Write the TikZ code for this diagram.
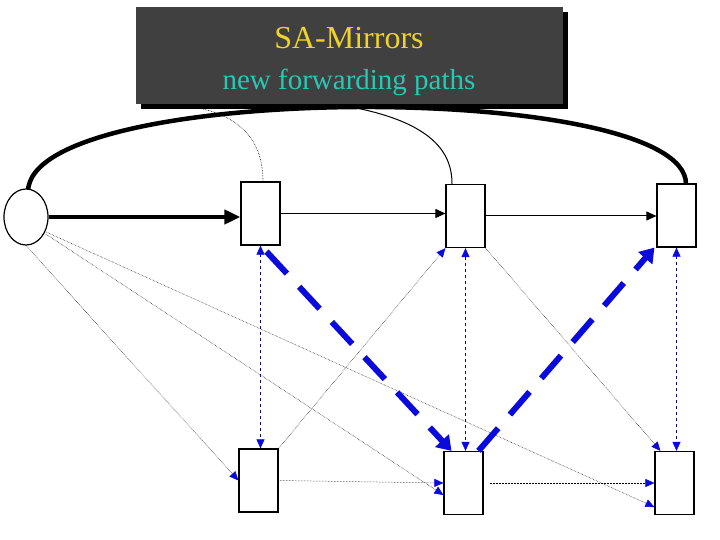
\documentclass[tikz,border=0pt]{standalone}
\usepackage{fontspec}
\setmainfont{Liberation Serif}
\usetikzlibrary{shapes.geometric,arrows.meta}
\definecolor{boxgray}{RGB}{64,64,64}
\definecolor{titlegold}{RGB}{240,210,40}
\definecolor{titleteal}{RGB}{40,200,180}
\definecolor{arrblue}{RGB}{10,10,220}
\begin{document}
\begin{tikzpicture}[x=1pt,y=-1pt,
  rbox/.style={draw,line width=1.2pt,fill=white,minimum width=39pt,minimum height=63pt,inner sep=0pt},
  dotl/.style={densely dotted,line width=0.5pt,-{Triangle[length=9pt,width=8pt,color=arrblue]}},
  vdash/.style={dashed,draw=arrblue!60!black,line width=0.6pt,{Triangle[length=9pt,width=8pt,color=arrblue]}-{Triangle[length=9pt,width=8pt,color=arrblue]}},
  bigdash/.style={draw=arrblue,line width=6pt,dash pattern=on 30pt off 18pt,-{Triangle[length=14pt,width=18pt]}},
  blk/.style={-{Triangle[length=10pt,width=9pt]}}]
\useasboundingbox (0,0) rectangle (720,540);
% arcs behind title
\draw[line width=4.5pt] (28,192) .. controls (28,80) and (686,80) .. (686,184);
\draw[line width=1pt] (300,100) .. controls (430,112) and (452,150) .. (452,184);
\draw[densely dotted,line width=0.6pt] (175,105) .. controls (250,110) and (263,150) .. (263,182);
% title
\fill[black] (141,12) rectangle (568,109);
\node[fill=boxgray,minimum width=427pt,minimum height=97pt,inner sep=0pt] (title) at (349.5,55.5) {};
\node[text=titlegold,font=\fontsize{32}{32}\selectfont] (t1) at (349,38) {SA-Mirrors};
\node[text=titleteal,font=\fontsize{29}{29}\selectfont] (t2) at (349,82) {new forwarding paths};
% nodes
\node[ellipse,draw,line width=1.2pt,fill=white,minimum width=44pt,minimum height=56pt,inner sep=0pt] (O) at (26,217) {};
\node[rbox] (A1) at (260.5,213.5) {};
\node[rbox] (A2) at (465.5,216) {};
\node[rbox] (A3) at (676.5,215.5) {};
\node[rbox] (B1) at (258.5,480.5) {};
\node[rbox] (B2) at (463.5,483) {};
\node[rbox] (B3) at (674.5,483) {};
% horizontal forward
\draw[line width=4pt,-{Triangle[length=16pt,width=14pt]}] (O.east) -- (A1.west |- O.east);
\draw[line width=1pt,blk] (A1.east) -- (A2.west |- A1.east);
\draw[line width=1pt,blk] (A2.east) -- (A3.west |- A2.east);
% dotted from O
\draw[dotl] (O.south) -- (B1.west);
\draw[dotl] ([shift={(4,-3)}]O.south east) -- ([yshift=-12]B2.west);
\draw[dotl] ([shift={(-2,-5)}]O.east |- O.south east) -- ([yshift=-24]B3.west);
% verticals
\draw[vdash] (A1.south) -- (A1.south |- B1.north);
\draw[vdash] (A2.south) -- (A2.south |- B2.north);
\draw[vdash] (A3.south) -- (A3.south |- B3.north);
% diagonals
\draw[dotl] (B1.north east) -- (A2.south west);
\draw[dotl] (A2.south east) -- ([xshift=6]B3.north west);
% bottom horizontals
\draw[dotl] (B1.east) -- (B2.west);
\draw[dotl] ([xshift=6]B2.east) -- (B3.west);
% big blue dashed
\draw[bigdash] ([shift={(6,6)}]A1.south) -- ([xshift=-12]B2.north);
\draw[bigdash] ([xshift=15]B2.north) -- ([xshift=-2]A3.south west);
\end{tikzpicture}
\end{document}
